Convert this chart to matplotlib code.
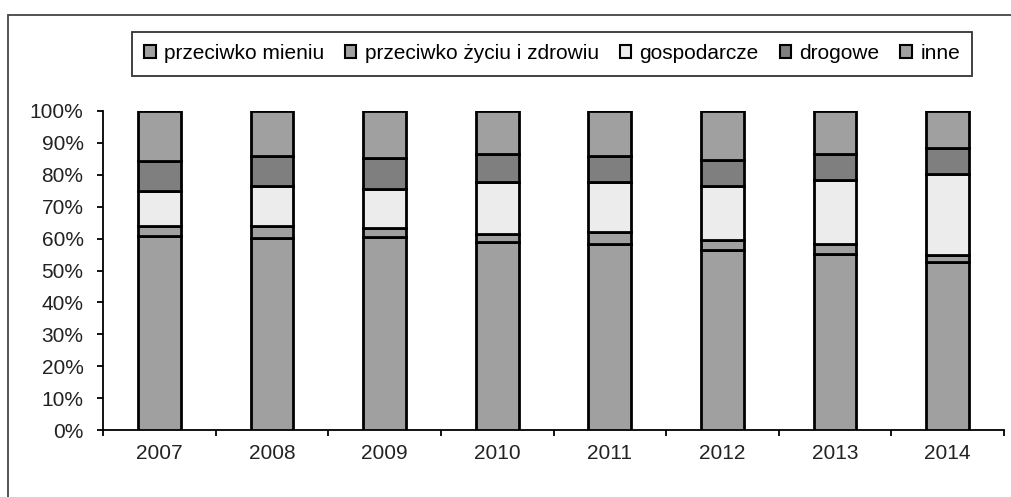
import matplotlib

matplotlib.use("Agg")
import matplotlib.pyplot as plt
import numpy as np
from matplotlib.patches import Rectangle
from matplotlib.ticker import PercentFormatter

plt.rcParams["font.family"] = ["Liberation Sans", "DejaVu Sans"]

years = ["2007", "2008", "2009", "2010", "2011", "2012", "2013", "2014"]
series_names = [
    "przeciwko mieniu",
    "przeciwko życiu i zdrowiu",
    "gospodarcze",
    "drogowe",
    "inne",
]
# shares in percent
mieniu = [60.9, 60.2, 60.4, 58.8, 58.3, 56.3, 55.2, 52.6]
zyciu = [3.2, 3.6, 2.9, 2.7, 3.8, 3.3, 3.1, 2.4]
gospodarcze = [10.9, 12.7, 12.4, 16.3, 15.7, 16.9, 20.0, 25.3]
drogowe = [9.2, 9.4, 9.5, 8.8, 8.1, 8.1, 8.3, 8.0]
inne = [15.8, 14.1, 14.8, 13.4, 14.1, 15.4, 13.4, 11.7]

colors = ["#a0a0a0", "#a0a0a0", "#ececec", "#7f7f7f", "#a0a0a0"]
FS = 15

W, H = 1011, 497
fig = plt.figure(figsize=(W / 100, H / 100), dpi=100)
ax = fig.add_axes([103 / W, 1 - 430 / H, (1004 - 103) / W, (430 - 111) / H])

# outer chart frame (open on right/bottom like the source)
fig.patches.append(Rectangle((8 / W, -0.05), 1.05, 1 - 15 / H + 0.05,
                             transform=fig.transFigure, fill=False,
                             edgecolor="#444444", linewidth=1.3))

x = np.arange(len(years))
data = np.array([mieniu, zyciu, gospodarcze, drogowe, inne])
totals = data.sum(axis=0)
shares = data / totals
bottom = np.zeros(len(years))
for name, vals, c in zip(series_names, shares, colors):
    ax.bar(x, vals, 0.38, bottom=bottom, color=c, edgecolor="black",
           linewidth=2.0, label=name, zorder=3)
    bottom += vals

ax.set_xlim(-0.5, len(years) - 0.5)
ax.set_ylim(0, 1)
ax.set_yticks(np.linspace(0, 1, 11))
ax.yaxis.set_major_formatter(PercentFormatter(1.0, decimals=0))
ax.set_xticks(np.arange(-0.5, len(years), 1.0))
ax.set_xticklabels([])
ax.set_xticks(x, minor=True)
ax.set_xticklabels(years, minor=True)
ax.tick_params(axis="x", which="minor", length=0, pad=10, labelsize=FS,
               colors="#222222")
ax.tick_params(axis="x", which="major", length=4, width=1.3, direction="out")
ax.tick_params(axis="y", length=4, width=1.3, pad=10, labelsize=FS,
               colors="#222222")
ax.tick_params(axis="both", which="major", color="black")
for side in ("top", "right"):
    ax.spines[side].set_visible(False)
for side in ("left", "bottom"):
    ax.spines[side].set_linewidth(1.3)

leg = fig.legend(loc="center", bbox_to_anchor=(552 / W, 1 - 53.5 / H),
                 ncol=5, frameon=True, fancybox=False, fontsize=FS,
                 handlelength=0.55, handleheight=0.55, handletextpad=0.4,
                 columnspacing=1.0, borderpad=0.6, borderaxespad=0,
                 edgecolor="black")
leg.get_frame().set_linewidth(1.3)
for h in leg.legend_handles:
    h.set_linewidth(1.5)

fig.savefig("out.png", dpi=100)
plt.close(fig)
